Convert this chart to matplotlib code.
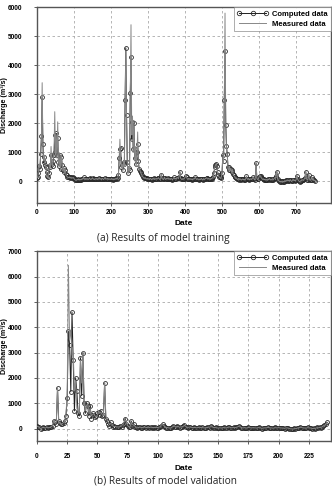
import numpy as np
import matplotlib
matplotlib.use("Agg")
import matplotlib.pyplot as plt

# ---------------- data ----------------
train_days = list(range(0, 752, 2))
train_measured = [
    120, 150, 380, 600, 450, 900, 1500, 3400, 1200, 700,
    900, 560, 480, 300, 150, 120, 350, 600, 450, 1200,
    600, 500, 800, 1000, 2400, 900, 1600, 800, 2050, 700,
    500, 950, 400, 900, 600, 350, 500, 300, 450, 250,
    180, 150, 130, 120, 150, 110, 140, 100, 120, 130,
    90, 60, 40, 30, 60, 50, 80, 40, 70, 50,
    60, 90, 70, 150, 80, 60, 100, 70, 90, 60,
    80, 110, 70, 60, 90, 120, 70, 80, 60, 90,
    70, 100, 60, 80, 130, 70, 90, 60, 100, 80,
    60, 90, 140, 70, 80, 100, 60, 90, 70, 80,
    60, 100, 70, 50, 90, 60, 80, 110, 70, 90,
    250, 700, 1450, 800, 450, 600, 350, 700, 500, 2600,
    4500, 2200, 600, 250, 500, 350, 2900, 5400, 1600, 2250,
    1000, 2100, 700, 1200, 500, 900, 1700, 600, 400, 380,
    300, 250, 200, 150, 120, 100, 130, 90, 80, 100,
    70, 90, 60, 100, 80, 50, 90, 70, 110, 60,
    80, 100, 70, 90, 120, 90, 60, 80, 250, 100,
    70, 60, 140, 90, 60, 100, 80, 120, 70, 90,
    60, 100, 80, 50, 90, 140, 80, 100, 70, 130,
    120, 90, 180, 340, 100, 80, 60, 90, 70, 100,
    130, 180, 150, 80, 60, 100, 70, 90, 60, 80,
    50, 90, 70, 100, 150, 80, 60, 90, 70, 50,
    80, 60, 100, 70, 40, 90, 60, 80, 100, 120,
    90, 70, 100, 80, 60, 100, 80, 120, 150, 250,
    450, 550, 600, 550, 300, 200, 150, 120, 100, 150,
    280, 850, 650, 2600, 5800, 2000, 1100, 900, 450, 380,
    500, 350, 450, 300, 400, 250, 200, 150, 120, 100,
    80, 60, 100, 50, 90, 70, 40, 60, 80, 50,
    70, 40, 90, 180, 80, 60, 100, 50, 70, 90,
    60, 100, 150, 80, 50, 120, 650, 100, 60, 80,
    150, 200, 180, 120, 90, 60, 80, 50, 70, 40,
    60, 30, 80, 50, 100, 70, 40, 60, 90, 50,
    80, 120, 100, 200, 350, 80, 40, 10, -20, 0,
    -30, 10, -40, 0, -20, 30, -10, 20, 50, 10,
    40, 0, 60, 20, -10, 30, 70, 20, 40, 10,
    50, 200, 80, 30, 0, -20, 20, 10, 60, 40,
    30, 80, 120, 350, 100, 40, 60, 250, 80, 30,
    60, 150, 40, 100, 20, 30,
]
train_computed = [
    100, 130, 300, 520, 420, 950, 1550, 2900, 1300, 650,
    850, 550, 500, 320, 180, 150, 300, 550, 500, 900,
    580, 520, 700, 900, 1600, 1000, 1650, 900, 1500, 650,
    520, 900, 420, 850, 550, 380, 450, 320, 400, 260,
    200, 160, 140, 130, 140, 120, 130, 110, 130, 120,
    100, 70, 50, 40, 50, 60, 70, 50, 60, 60,
    70, 80, 80, 130, 90, 70, 90, 80, 80, 70,
    90, 100, 80, 70, 80, 110, 80, 70, 70, 80,
    80, 90, 70, 90, 120, 80, 80, 70, 90, 90,
    70, 80, 120, 80, 90, 90, 70, 80, 80, 70,
    70, 90, 80, 60, 80, 70, 90, 100, 80, 100,
    200, 800, 1100, 1150, 500, 550, 400, 650, 600, 2800,
    4600, 2300, 650, 300, 450, 400, 3050, 4300, 1450, 2050,
    1100, 2000, 800, 1100, 600, 1000, 1300, 700, 420, 350,
    320, 280, 220, 160, 140, 110, 120, 100, 90, 110,
    80, 80, 70, 90, 90, 60, 80, 80, 100, 70,
    90, 90, 80, 100, 110, 80, 70, 90, 220, 110,
    80, 70, 120, 100, 70, 90, 90, 110, 80, 80,
    70, 90, 90, 60, 80, 130, 90, 90, 80, 120,
    110, 100, 160, 320, 110, 90, 70, 80, 80, 90,
    120, 170, 140, 90, 70, 90, 80, 80, 70, 90,
    60, 80, 80, 90, 140, 90, 70, 80, 80, 60,
    70, 70, 90, 80, 50, 80, 70, 90, 90, 110,
    100, 80, 90, 90, 70, 90, 90, 110, 160, 280,
    480, 570, 580, 520, 320, 220, 160, 130, 110, 140,
    300, 900, 700, 2800, 4500, 1950, 1200, 950, 500, 400,
    480, 380, 420, 320, 380, 260, 210, 160, 130, 110,
    90, 70, 90, 60, 80, 80, 50, 70, 70, 60,
    80, 50, 80, 170, 90, 70, 90, 60, 80, 80,
    70, 90, 140, 90, 60, 110, 620, 110, 70, 90,
    140, 190, 170, 130, 100, 70, 70, 60, 60, 50,
    50, 40, 70, 60, 90, 80, 50, 50, 80, 60,
    70, 110, 110, 190, 330, 90, 50, 20, -10, 10,
    -20, 0, -30, 10, -10, 20, 0, 30, 40, 20,
    30, 10, 50, 30, 0, 20, 60, 30, 30, 20,
    40, 190, 90, 40, 10, -10, 10, 20, 50, 50,
    40, 70, 110, 330, 110, 50, 50, 230, 90, 40,
    50, 140, 50, 90, 30, 20,
]

valid_days = list(range(0, 241))
valid_measured = [
    100, 80, 60, -20, 30, 50, 40, 20, 60, 30,
    50, 40, 80, 150, 350, 200, 250, 1650, 200, 250,
    150, 200, 250, 300, 600, 1300, 6450, 3500, 3900, 2900,
    3000, 1500, 1900, 800, 700, 600, 2700, 1800, 3050, 1100,
    700, 900, 1000, 600, 800, 500, 550, 600, 500, 450,
    550, 700, 600, 650, 550, 500, 1850, 500, 350, 250,
    150, 200, 180, 100, 80, 90, 60, 70, 60, 90,
    100, 180, 250, 350, 250, 120, 80, 60, 250, 150,
    150, 100, 50, 60, 40, 60, 50, 40, 50, 60,
    50, 40, 60, 40, 60, 50, 40, 50, 40, 50,
    40, 60, 70, 150, 160, 120, 50, 50, 40, 30,
    20, 30, 70, 90, 100, 50, 90, 80, 50, 70,
    70, 90, 130, 100, 50, 50, 60, 60, 50, 40,
    40, 50, 30, 40, 50, 50, 40, 40, 30, 30,
    40, 40, 60, 60, 80, 70, 50, 40, 40, 30,
    20, 30, 30, 20, 40, 40, 30, 30, 50, 70,
    50, 30, 40, 40, 40, 50, 70, 90, 70, 50,
    30, 30, 40, 20, 30, 50, 40, 30, 30, 40,
    30, 30, 20, 40, 40, 30, 10, 20, 30, 30,
    30, 50, 40, 30, 30, 20, 20, 40, 30, 30,
    40, 30, 30, 20, 20, 10, 30, 30, 20, 0,
    -10, -10, -20, 0, 0, 10, 30, 40, 50, 50,
    30, 30, 20, 20, 40, 30, 30, 20, 0, 10,
    10, 20, 40, 30, 50, 50, 70, 110, 130, 180, 240,
]
valid_computed = [
    120, 70, 50, 0, 20, 60, 30, 40, 50, 40,
    60, 50, 70, 120, 300, 250, 200, 1600, 300, 220,
    180, 180, 220, 300, 500, 1200, 3850, 3300, 1450, 4600,
    2700, 700, 2000, 1500, 600, 500, 2800, 1300, 3000, 1000,
    600, 1000, 900, 500, 900, 400, 600, 550, 450, 500,
    600, 650, 550, 700, 500, 550, 1800, 400, 300, 200,
    100, 250, 150, 80, 100, 60, 80, 50, 70, 100,
    80, 150, 200, 400, 200, 100, 60, 80, 300, 100,
    200, 80, 60, 40, 50, 70, 40, 30, 60, 50,
    40, 60, 50, 30, 70, 40, 50, 30, 60, 40,
    30, 50, 80, 120, 180, 100, 60, 40, 30, 20,
    10, 40, 60, 100, 80, 60, 100, 70, 40, 80,
    60, 100, 150, 80, 60, 40, 50, 70, 40, 30,
    50, 40, 20, 30, 60, 40, 30, 50, 20, 40,
    30, 50, 70, 40, 90, 60, 40, 30, 50, 20,
    30, 20, 40, 10, 30, 50, 20, 40, 60, 80,
    40, 20, 30, 50, 30, 60, 80, 100, 60, 40,
    20, 40, 30, 10, 40, 60, 30, 20, 40, 30,
    20, 40, 10, 30, 50, 20, 0, 30, 40, 20,
    40, 60, 30, 20, 40, 10, 30, 50, 20, 40,
    30, 20, 40, 10, 30, 0, 20, 40, 10, -10,
    -20, 0, -30, 10, -10, 20, 40, 30, 60, 40,
    20, 40, 10, 30, 50, 20, 40, 10, -10, 20,
    0, 30, 50, 20, 60, 40, 80, 100, 150, 200, 250,
]

train_xticks = [0, 100, 200, 300, 400, 500, 600, 700]
train_yticks = [0, 1000, 2000, 3000, 4000, 5000, 6000]
valid_xticks = [0, 25, 50, 75, 100, 125, 150, 175, 200, 225]
valid_yticks = [0, 1000, 2000, 3000, 4000, 5000, 6000, 7000]

caption_a = "(a) Results of model training"
caption_b = "(b) Results of model validation"

# ---------------- plotting ----------------
plt.rcParams['font.family'] = ['Liberation Sans', 'DejaVu Sans']

fig = plt.figure(figsize=(3.32, 4.88), dpi=100)

def style_axes(ax, xlim, ylim, xticks, yticks, xpad, xlabel_y):
    ax.set_xlim(*xlim)
    ax.set_ylim(*ylim)
    ax.set_xticks(xticks)
    ax.set_yticks(yticks)
    for lab in ax.get_xticklabels() + ax.get_yticklabels():
        lab.set_fontweight('bold')
    ax.tick_params(axis='both', labelsize=4.7, length=2, width=0.6,
                   color='#444444', direction='out')
    ax.tick_params(axis='y', pad=8.5)
    ax.tick_params(axis='x', pad=xpad)
    ax.grid(True, linestyle=(0, (3, 3)), color='#aaaaaa', linewidth=0.6)
    ax.set_axisbelow(True)
    for s in ax.spines.values():
        s.set_color('#555555')
        s.set_linewidth(1.0)
    ax.set_xlabel('Date', fontsize=6, fontweight='bold', labelpad=0)
    ax.set_ylabel('Discharge (m\u00b3/s)', fontsize=5.1, fontweight='bold')
    ax.yaxis.set_label_coords(-0.099, 0.5)
    ax.xaxis.set_label_coords(0.5, xlabel_y)

def draw(ax, days, comp, meas):
    ax.plot(days, comp, color='#1e1e1e', linewidth=0.7, marker='o',
            markersize=2.8, markerfacecolor='none', markeredgewidth=0.6,
            markeredgecolor='#2a2a2a', label='Computed data', zorder=3)
    ax.plot(days, meas, color='#888888', linewidth=0.7,
            label='Measured data', zorder=4)
    leg = ax.legend(loc='upper right', frameon=True,
                    fancybox=False, borderaxespad=0.0, handlelength=4.2,
                    handletextpad=0.4, labelspacing=0.4, borderpad=0.4,
                    numpoints=3, prop={'weight': 'bold', 'size': 5.5})
    leg.get_frame().set_edgecolor('#888888')
    leg.get_frame().set_linewidth(0.6)
    leg.legend_handles[0].set_markersize(3.2)

ax1 = fig.add_axes([0.1114, 0.584, 0.8841, 0.401])
draw(ax1, train_days, train_computed, train_measured)
style_axes(ax1, (0, 793), (-750, 6000), train_xticks, train_yticks, 2.5, -0.088)

ax2 = fig.add_axes([0.1114, 0.0957, 0.8841, 0.3893])
draw(ax2, valid_days, valid_computed, valid_measured)
style_axes(ax2, (0, 243), (-500, 7000), valid_xticks, valid_yticks, 6.5, -0.123)

fig.text(0.492, 0.512, caption_a, fontsize=7.3, family=['Open Sans', 'DejaVu Sans'],
         ha='center', va='center', color='#222222')
fig.text(0.497, 0.0137, caption_b, fontsize=7.3, family=['Open Sans', 'DejaVu Sans'],
         ha='center', va='center', color='#222222')

fig.savefig('out.png', dpi=100)
